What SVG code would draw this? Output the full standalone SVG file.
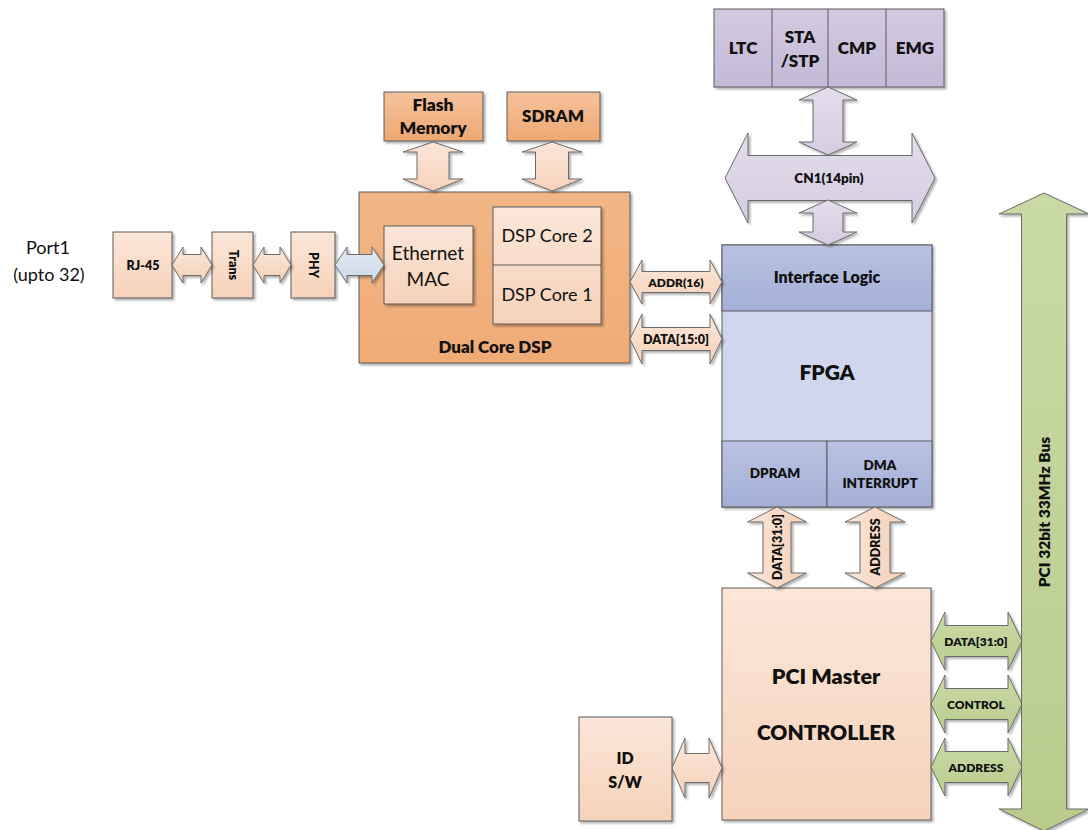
<svg xmlns="http://www.w3.org/2000/svg" width="1088" height="830" viewBox="0 0 1088 830">
<style>
text{font-family:Lato,"Liberation Sans",sans-serif;fill:#111;text-anchor:middle}
.b{font-weight:800}
.box{stroke:#5a5a5a;stroke-width:1}
.arr{stroke:#6a6a6a;stroke-width:1}
</style>
<defs>
<filter id="sh" x="-10%" y="-10%" width="130%" height="130%">
<feDropShadow dx="2" dy="2" stdDeviation="1.2" flood-color="#000" flood-opacity="0.3"/>
</filter>
<linearGradient id="peach" x1="0" y1="0" x2="0" y2="1"><stop offset="0" stop-color="#fbe6d8"/><stop offset="1" stop-color="#f6d2b9"/></linearGradient>
<linearGradient id="peachH" x1="0" y1="0" x2="1" y2="0"><stop offset="0" stop-color="#fbe6d8"/><stop offset="1" stop-color="#f5d0b6"/></linearGradient>
<linearGradient id="orange" x1="0" y1="0" x2="0" y2="1"><stop offset="0" stop-color="#f5c29c"/><stop offset="1" stop-color="#eea872"/></linearGradient>
<linearGradient id="dsp" x1="0" y1="0" x2="0" y2="1"><stop offset="0" stop-color="#f2b686"/><stop offset="1" stop-color="#efab76"/></linearGradient>
<linearGradient id="lav" x1="0" y1="0" x2="0" y2="1"><stop offset="0" stop-color="#d3cae1"/><stop offset="1" stop-color="#c4b9d6"/></linearGradient>
<linearGradient id="lavA" x1="0" y1="0" x2="0" y2="1"><stop offset="0" stop-color="#e3ddeb"/><stop offset="1" stop-color="#d5cce2"/></linearGradient>
<linearGradient id="blueA" x1="0" y1="0" x2="0" y2="1"><stop offset="0" stop-color="#e3eaf4"/><stop offset="1" stop-color="#ccd9ea"/></linearGradient>
<linearGradient id="iface" x1="0" y1="0" x2="0" y2="1"><stop offset="0" stop-color="#b9c2e2"/><stop offset="1" stop-color="#a4afd6"/></linearGradient>
<linearGradient id="green" x1="0" y1="0" x2="0" y2="1"><stop offset="0" stop-color="#c9daa6"/><stop offset="1" stop-color="#b9cc8d"/></linearGradient>
</defs>

<g id="port1">
<text x="48" y="254" font-size="18">Port1</text>
<text x="49" y="281" font-size="18">(upto 32)</text>
</g>
<g id="rj45">
<rect class="box" x="113" y="232" width="59" height="66" fill="url(#peach)" filter="url(#sh)"/>
<text class="b" x="143" y="269.5" font-size="12.5">RJ-45</text>
</g>
<g id="trans">
<rect class="box" x="212" y="232" width="41" height="66" fill="url(#peach)" filter="url(#sh)"/>
<text class="b" font-size="12.5" transform="translate(228.5,265) rotate(90)">Trans</text>
</g>
<g id="phy">
<rect class="box" x="291" y="232" width="44" height="66" fill="url(#peach)" filter="url(#sh)"/>
<text class="b" font-size="12.5" transform="translate(308.5,265) rotate(90)">PHY</text>
</g>
<g id="flash">
<rect class="box" x="384" y="92" width="99" height="49" fill="url(#orange)" filter="url(#sh)"/>
<text class="b" x="433" y="111" font-size="17.5">Flash</text>
<text class="b" x="433" y="134" font-size="17.5">Memory</text>
</g>
<g id="sdram">
<rect class="box" x="507" y="92" width="93" height="49" fill="url(#orange)" filter="url(#sh)"/>
<text class="b" x="553" y="122" font-size="17">SDRAM</text>
</g>
<g id="dsp">
<rect class="box" x="359" y="192" width="271" height="171" fill="url(#dsp)" filter="url(#sh)"/>
<rect class="box" x="384" y="226" width="89" height="78" fill="url(#peach)" filter="url(#sh)"/>
<text x="428" y="260" font-size="19">Ethernet</text>
<text x="428" y="286" font-size="19">MAC</text>
<rect class="box" x="493" y="207" width="108" height="117" fill="url(#peach)" filter="url(#sh)"/>
<line class="box" x1="493" y1="265" x2="601" y2="265"/>
<text x="547" y="242" font-size="18">DSP Core 2</text>
<text x="547" y="301" font-size="18">DSP Core 1</text>
<text class="b" x="495" y="353" font-size="17">Dual Core DSP</text>
</g>
<g id="io-top">
<rect class="box" x="714" y="9" width="230" height="78" fill="url(#lav)" filter="url(#sh)"/>
<line class="box" x1="772" y1="9" x2="772" y2="87"/>
<line class="box" x1="828" y1="9" x2="828" y2="87"/>
<line class="box" x1="886" y1="9" x2="886" y2="87"/>
<text class="b" x="743" y="54" font-size="17">LTC</text>
<text class="b" x="800" y="43" font-size="17">STA</text>
<text class="b" x="800" y="67" font-size="17">/STP</text>
<text class="b" x="857" y="54" font-size="17">CMP</text>
<text class="b" x="915" y="54" font-size="17">EMG</text>
</g>
<g id="fpga">
<rect class="box" x="722" y="245" width="210" height="262" fill="#d0d6eb" filter="url(#sh)"/>
<rect class="box" x="722" y="245" width="210" height="66" fill="url(#iface)"/>
<rect class="box" x="722" y="441" width="105" height="66" fill="url(#iface)"/>
<rect class="box" x="827" y="441" width="105" height="66" fill="url(#iface)"/>
<text class="b" x="827" y="283" font-size="16">Interface Logic</text>
<text class="b" x="827" y="380" font-size="21">FPGA</text>
<text class="b" x="775" y="478" font-size="13.5">DPRAM</text>
<text class="b" x="880" y="470" font-size="13.5">DMA</text>
<text class="b" x="880" y="488" font-size="13.5">INTERRUPT</text>
</g>
<g id="pci-master">
<rect class="box" x="722" y="588" width="209" height="232" fill="url(#peach)" filter="url(#sh)"/>
<text class="b" x="826" y="684" font-size="21.5">PCI Master</text>
<text class="b" x="826" y="740" font-size="21">CONTROLLER</text>
</g>
<g id="id-sw">
<rect class="box" x="579" y="717" width="93" height="104" fill="url(#peach)" filter="url(#sh)"/>
<text class="b" x="625" y="764" font-size="16">ID</text>
<text class="b" x="625" y="788" font-size="16">S/W</text>
</g>

<g id="connectors" filter="url(#sh)">
<polygon class="arr" fill="url(#peach)" points="172,265 183,247 183,254.5 201,254.5 201,247 212,265 201,283 201,275.5 183,275.5 183,283"/>
<polygon class="arr" fill="url(#peach)" points="253,265 264,247 264,254.5 280,254.5 280,247 291,265 280,283 280,275.5 264,275.5 264,283"/>
<polygon class="arr" fill="url(#blueA)" points="335,265 347,247 347,254.5 372,254.5 372,247 384,265 372,283 372,275.5 347,275.5 347,283"/>
<polygon class="arr" fill="url(#peach)" points="433,142 463,152 449,152 449,179 463,179 433,191 403,179 417,179 417,152 403,152"/>
<polygon class="arr" fill="url(#peach)" points="552,142 582,152 568.5,152 568.5,179 582,179 552,191 522,179 535.5,179 535.5,152 522,152"/>
<polygon class="arr" fill="url(#peach)" points="630,282 642,260 642,271.5 710,271.5 710,260 722,282 710,304 710,292.5 642,292.5 642,304"/>
<polygon class="arr" fill="url(#peach)" points="630,339 642,314 642,327.5 710,327.5 710,314 722,339 710,364 710,350.5 642,350.5 642,364"/>
<polygon class="arr" fill="url(#lavA)" points="828,87 857,100 843,100 843,142 857,142 828,155 799,142 813,142 813,100 799,100"/>
<polygon class="arr" fill="url(#lavA)" points="725,178 748,133 748,155.5 912,155.5 912,133 935,178 912,223 912,200.5 748,200.5 748,223"/>
<polygon class="arr" fill="url(#lavA)" points="828,200 857,213 843,213 843,232 857,232 828,245 799,232 813,232 813,213 799,213"/>
<polygon class="arr" fill="url(#peachH)" points="777,507 806.5,522 791,522 791,573 806.5,573 777,588 747.5,573 763,573 763,522 747.5,522"/>
<polygon class="arr" fill="url(#peachH)" points="875,507 905,522 890,522 890,573 905,573 875,588 845,573 860,573 860,522 845,522"/>
<polygon class="arr" fill="url(#peach)" points="672,768 685,738 685,753.5 709,753.5 709,738 722,768 709,798 709,782.5 685,782.5 685,798"/>
<polygon class="arr" fill="url(#green)" points="931,641 945,612 945,625.5 1008,625.5 1008,612 1022,641 1008,670 1008,656.5 945,656.5 945,670"/>
<polygon class="arr" fill="url(#green)" points="931,704 945,675 945,688.5 1008,688.5 1008,675 1022,704 1008,733 1008,719.5 945,719.5 945,733"/>
<polygon class="arr" fill="url(#green)" points="931,767 945,738 945,751.5 1008,751.5 1008,738 1022,767 1008,796 1008,782.5 945,782.5 945,796"/>
<polygon class="arr" fill="url(#green)" points="1044,193 1089,214 1066.5,214 1066.5,809 1089,809 1044,831 999,809 1021.5,809 1021.5,214 999,214"/>
</g>
<g id="connector-labels">
<text class="b" x="676" y="286.5" font-size="12">ADDR(16)</text>
<text class="b" x="676" y="343.5" font-size="12.5">DATA[15:0]</text>
<text class="b" x="829" y="183" font-size="13.5">CN1(14pin)</text>
<text class="b" font-size="12.5" transform="translate(781.5,547) rotate(-90)">DATA[31:0]</text>
<text class="b" font-size="12.5" transform="translate(879.5,547) rotate(-90)">ADDRESS</text>
<text class="b" x="976" y="645.5" font-size="12">DATA[31:0]</text>
<text class="b" x="976" y="708.5" font-size="12">CONTROL</text>
<text class="b" x="976" y="771.5" font-size="12">ADDRESS</text>
<text class="b" font-size="15.5" transform="translate(1049.5,512) rotate(-90)">PCI 32bit 33MHz Bus</text>
</g>
</svg>
